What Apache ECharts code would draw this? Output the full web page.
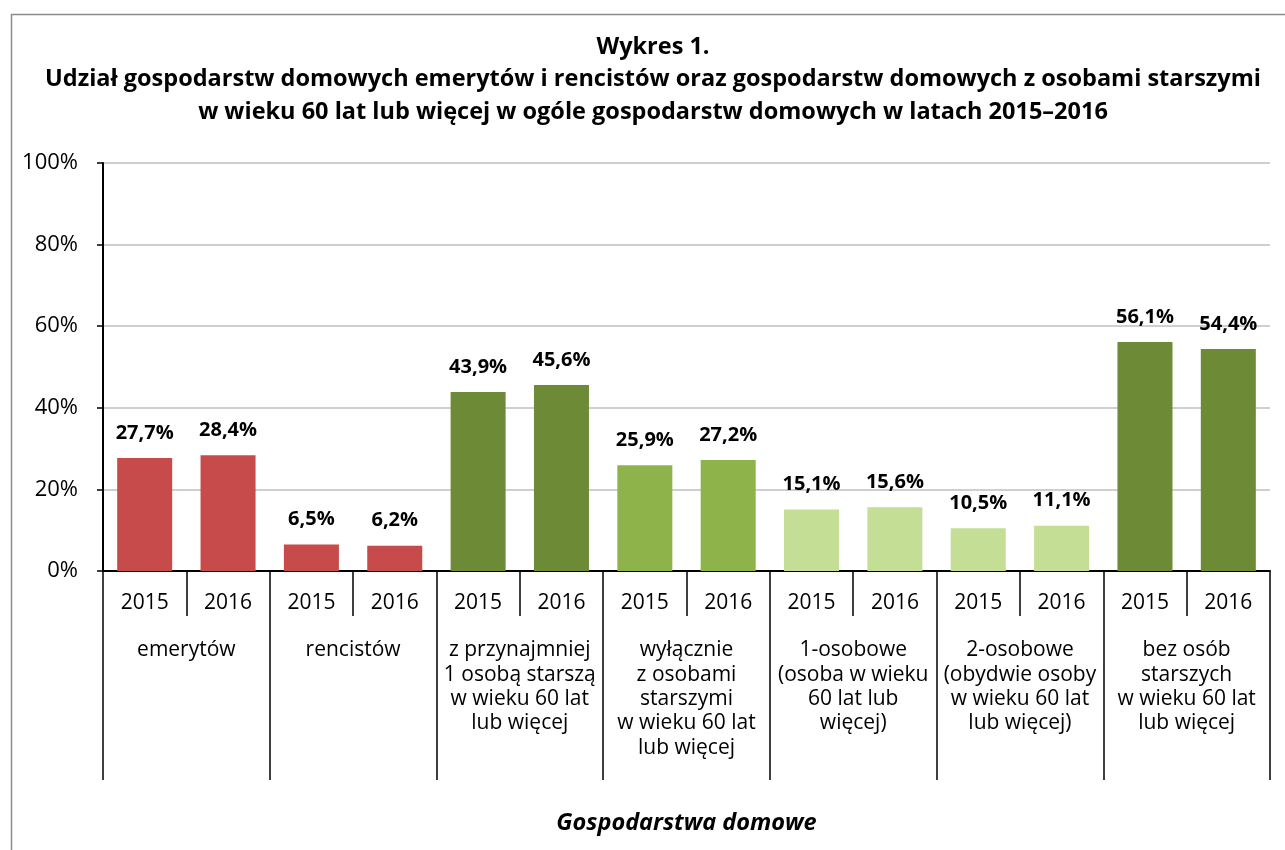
<!DOCTYPE html>
<html>
<head>
<meta charset="utf-8">
<script src="https://cdn.jsdelivr.net/npm/echarts@6/dist/echarts.min.js"></script>
<style>
  html, body { margin: 0; padding: 0; background: #fff; }
  #chart { width: 1285px; height: 850px; }
</style>
</head>
<body>
<div id="chart"></div>
<script>
var years = ['2015', '2016', '2015', '2016', '2015', '2016', '2015', '2016', '2015', '2016', '2015', '2016', '2015', '2016'];
var groups = [
    'emerytów',
    'rencistów',
    'z przynajmniej\n1 osobą starszą\nw wieku 60 lat\nlub więcej',
    'wyłącznie\nz osobami\nstarszymi\nw wieku 60 lat\nlub więcej',
    '1-osobowe\n(osoba w wieku\n60 lat lub\nwięcej)',
    '2-osobowe\n(obydwie osoby\nw wieku 60 lat\nlub więcej)',
    'bez osób\nstarszych\nw wieku 60 lat\nlub więcej'
];
var values = [27.7, 28.4, 6.5, 6.2, 43.9, 45.6, 25.9, 27.2, 15.1, 15.6, 10.5, 11.1, 56.1, 54.4];
var groupColors = ['#c84b4b', '#c84b4b', '#6d8b37', '#8db34a', '#c5de96', '#c5de96', '#6d8b37'];

var font = 'Open Sans';
var myChart = echarts.init(document.getElementById('chart'));

var option = {
    animation: false,
    title: {
        text: 'Wykres 1.\nUdział gospodarstw domowych emerytów i rencistów oraz gospodarstw domowych z osobami starszymi\nw wieku 60 lat lub więcej w ogóle gospodarstw domowych w latach 2015–2016',
        left: 648,
        top: 26,
        textAlign: 'center',
        textStyle: {
            fontFamily: font,
            fontSize: 23.5,
            fontWeight: 'bold',
            color: '#000',
            lineHeight: 32.5,
            align: 'center'
        }
    },
    graphic: [{
        type: 'rect',
        left: 9,
        top: 12,
        shape: { width: 1300, height: 900 },
        style: { fill: 'none', stroke: '#8c8c8c', lineWidth: 1.5 },
        silent: true
    }],
    grid: {
        left: 103,
        right: 15,
        top: 163,
        bottom: 279,
        containLabel: false
    },
    xAxis: [{
        type: 'category',
        data: years,
        position: 'bottom',
        axisLine: { lineStyle: { color: '#000', width: 2 } },
        axisTick: { show: true, interval: 0, length: 45, lineStyle: { color: '#000', width: 1.5 } },
        axisLabel: {
            interval: 0,
            margin: 22,
            fontFamily: font,
            fontSize: 21,
            color: '#000'
        }
    }, {
        type: 'category',
        data: groups,
        position: 'bottom',
        axisLine: { show: false },
        axisTick: { show: true, interval: 0, length: 209, lineStyle: { color: '#000', width: 1.5 } },
        axisLabel: {
            interval: 0,
            margin: 67,
            fontFamily: font,
            fontSize: 21,
            lineHeight: 24.4,
            color: '#000',
            align: 'center'
        },
        name: 'Gospodarstwa domowe',
        nameLocation: 'middle',
        nameGap: 241,
        nameTextStyle: {
            fontFamily: font,
            fontSize: 23.5,
            fontStyle: 'italic',
            fontWeight: 'bold',
            color: '#000'
        }
    }],
    yAxis: {
        type: 'value',
        min: 0,
        max: 100,
        interval: 20,
        axisLine: { show: true, lineStyle: { color: '#000', width: 2 } },
        axisTick: { show: true, length: 6, lineStyle: { color: '#000', width: 1.5 } },
        axisLabel: {
            formatter: '{value}%',
            margin: 25,
            fontFamily: font,
            fontSize: 22,
            color: '#000'
        },
        splitLine: { lineStyle: { color: '#bfbfbf', width: 1.5 } }
    },
    series: [{
        type: 'bar',
        xAxisIndex: 0,
        barCategoryGap: '34%',
        data: values.map(function (v, i) {
            return { value: v, itemStyle: { color: groupColors[Math.floor(i / 2)] } };
        }),
        label: {
            show: true,
            position: 'top',
            distance: 15,
            fontFamily: font,
            fontSize: 20,
            fontWeight: 'bold',
            color: '#000',
            formatter: function (p) {
                return p.value.toFixed(1).replace('.', ',') + '%';
            }
        }
    }]
};
myChart.setOption(option);
</script>
</body>
</html>
